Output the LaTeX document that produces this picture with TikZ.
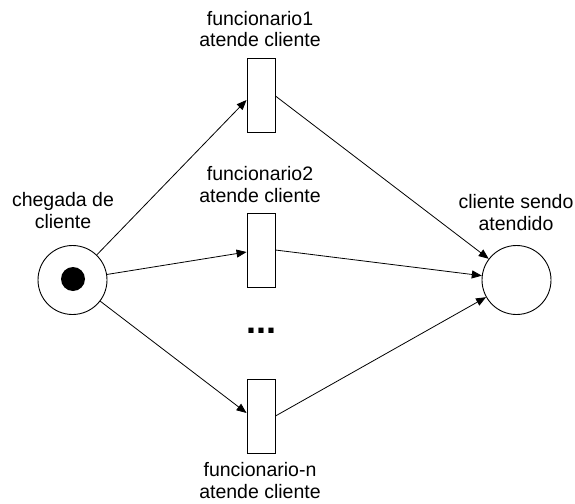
\documentclass[tikz,border=0pt]{standalone}
\usepackage{fontspec}
\setmainfont{Liberation Sans}
\usetikzlibrary{calc,arrows.meta}
\begin{document}
\begin{tikzpicture}[x=1pt,y=-1pt,
  place/.style={draw=black,line width=0.9pt,circle,minimum size=69pt,inner sep=0pt},
  token/.style={fill=black,circle,minimum size=24pt,inner sep=0pt},
  transition/.style={draw=black,line width=0.9pt,rectangle,minimum width=28pt,minimum height=74pt,inner sep=0pt,fill=white},
  lbl/.style={align=center,inner sep=0pt,anchor=base,font=\fontsize{19.5}{21.5}\selectfont},
  arc/.style={draw=black,line width=0.8pt,-{Triangle[length=10pt,width=8pt]}}]
  \useasboundingbox (0,0) rectangle (575,503);

  % places
  \node[place] (p1) at (72.5,280) {};
  \node[token] (tok) at (73,279) {};
  \node[place] (p2) at (516.5,280) {};

  % transitions
  \node[transition] (t1) at (261,95) {};
  \node[transition] (t2) at (261,250) {};
  \node[transition] (t3) at (261,416) {};

  % labels (anchored at the baseline of the last line)
  \node[lbl] (l1) at (260,47) {funcionario1\\atende cliente};
  \node[lbl] (l2) at (260,202) {funcionario2\\atende cliente};
  \node[lbl] (l3) at (260,498) {funcionario-n\\atende cliente};
  \node[lbl] (lp1) at (63,228) {chegada de\\cliente};
  \node[lbl] (lp2) at (516,230) {cliente sendo\\atendido};
  \node[inner sep=0pt,anchor=base,font=\fontsize{36}{36}\selectfont\bfseries] (dots) at (261,333) {...};

  % arcs
  \draw[arc] (p1) -- ($(t1.west)+(0,5)$);
  \draw[arc] (p1) -- ($(t2.west)+(0,2)$);
  \draw[arc] (p1) -- ($(t3.west)+(0,-3)$);
  \draw[arc] ($(t1.east)+(0,1)$) -- (p2);
  \draw[arc] (t2.east) -- (p2);
  \draw[arc] (t3.east) -- (p2);
\end{tikzpicture}
\end{document}
